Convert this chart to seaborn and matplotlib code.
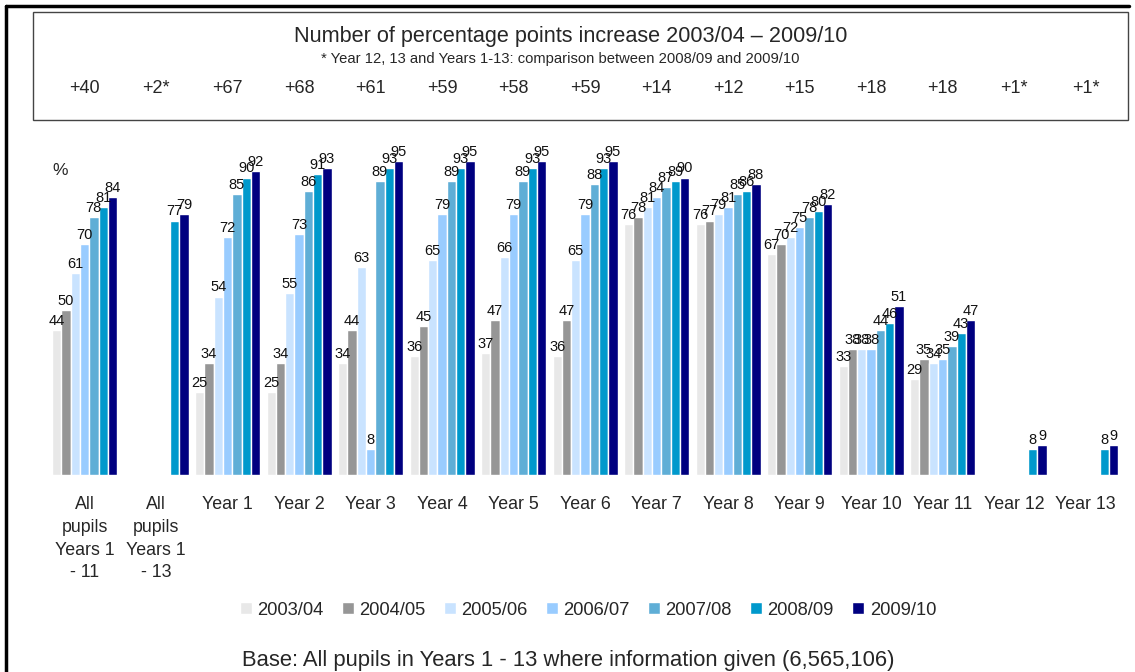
import numpy as np
import pandas as pd
import matplotlib.pyplot as plt
import seaborn as sns
from matplotlib.patches import Rectangle
from matplotlib.lines import Line2D
from matplotlib.transforms import blended_transform_factory

# categories and series
groups = ["All\npupils\nYears 1\n- 11", "All\npupils\nYears 1\n- 13", "Year 1", "Year 2",
          "Year 3", "Year 4", "Year 5", "Year 6", "Year 7", "Year 8", "Year 9",
          "Year 10", "Year 11", "Year 12", "Year 13"]
years = ["2003/04", "2004/05", "2005/06", "2006/07", "2007/08", "2008/09", "2009/10"]

nan = np.nan
v0304 = [44, nan, 25, 25, 34, 36, 37, 36, 76, 76, 67, 33, 29, nan, nan]
v0405 = [50, nan, 34, 34, 44, 45, 47, 47, 78, 77, 70, 38, 35, nan, nan]
v0506 = [61, nan, 54, 55, 63, 65, 66, 65, 81, 79, 72, 38, 34, nan, nan]
v0607 = [70, nan, 72, 73, 8, 79, 79, 79, 84, 81, 75, 38, 35, nan, nan]
v0708 = [78, nan, 85, 86, 89, 89, 89, 88, 87, 85, 78, 44, 39, nan, nan]
v0809 = [81, 77, 90, 91, 93, 93, 93, 93, 89, 86, 80, 46, 43, 8, 8]
v0910 = [84, 79, 92, 93, 95, 95, 95, 95, 90, 88, 82, 51, 47, 9, 9]

increase = ["+40", "+2*", "+67", "+68", "+61", "+59", "+58", "+59", "+14",
            "+12", "+15", "+18", "+18", "+1*", "+1*"]

colors = ["#E8E8E8", "#969696", "#C9E3FF", "#99CCFF", "#5FAED6", "#0099CC", "#000080"]

series = [v0304, v0405, v0506, v0607, v0708, v0809, v0910]
rows = []
for yr, vals in zip(years, series):
    for g, v in zip(groups, vals):
        rows.append({"group": g, "year": yr, "value": v})
df = pd.DataFrame(rows).dropna()

sns.set_style("white")
plt.rcParams['font.family'] = ['Liberation Sans', 'DejaVu Sans']

fig = plt.figure(figsize=(11.35, 6.72), dpi=100)
ax = fig.add_axes([0.043, 0.293, 0.945, 0.492])

sns.barplot(data=df, x="group", y="value", hue="year", order=groups,
            hue_order=years, palette=colors, width=0.91, saturation=1,
            errorbar=None, ax=ax, legend=False)

for cont in ax.containers:
    ax.bar_label(cont, labels=[f"{b.get_height():g}" for b in cont],
                 padding=1.5, fontsize=10.5, color="#111111")

ax.set_ylim(0, 100)
ax.set_xlim(-0.5, len(groups) - 0.5)
ax.set_yticks([])
ax.set_xlabel("")
ax.set_ylabel("")
ax.tick_params(axis="x", length=0, pad=15, labelsize=12.8)
for lbl in ax.get_xticklabels():
    lbl.set_linespacing(1.45)
    lbl.set_verticalalignment("top")
sns.despine(ax=ax, left=True, bottom=True)

ax.text(0.053, 0.747, "%", transform=fig.transFigure, fontsize=12.5,
        ha="center", va="center")

# header box with increases
fig.patches.append(Rectangle((0.029, 0.821), 0.965, 0.161, transform=fig.transFigure,
                             fill=False, edgecolor="#444444", linewidth=1))
fig.text(0.503, 0.945, "Number of percentage points increase 2003/04 \u2013 2009/10",
         ha="center", va="center", fontsize=15.6)
fig.text(0.494, 0.912, "* Year 12, 13 and Years 1-13: comparison between 2008/09 and 2009/10",
         ha="center", va="center", fontsize=10.6)
trans = blended_transform_factory(ax.transData, fig.transFigure)
for i, s in enumerate(increase):
    ax.text(i, 0.868, s, transform=trans, ha="center", va="center", fontsize=13)

# outer border (left and top)
fig.lines.append(Line2D([0.005, 0.005], [0.0, 0.991], transform=fig.transFigure,
                        color="black", linewidth=2.5))
fig.lines.append(Line2D([0.005, 0.995], [0.991, 0.991], transform=fig.transFigure,
                        color="black", linewidth=2.5))

handles = [Rectangle((0, 0), 1, 1, facecolor=c) for c in colors]
fig.legend(handles, years, loc="center", bbox_to_anchor=(0.518, 0.092), ncol=7,
           frameon=False, fontsize=13.2, handlelength=0.65, handleheight=0.65,
           handletextpad=0.3, columnspacing=1.0)

fig.text(0.501, 0.017, "Base: All pupils in Years 1 - 13 where information given (6,565,106)",
         ha="center", va="center", fontsize=15.8)

fig.savefig("out.png", dpi=100)
